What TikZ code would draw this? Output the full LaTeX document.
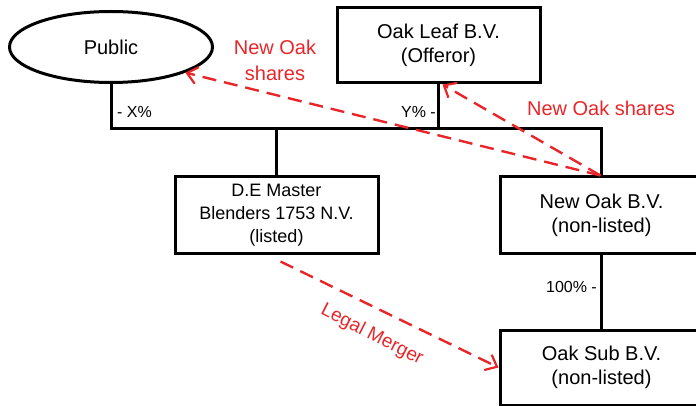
\documentclass[tikz,border=0pt]{standalone}
\usepackage{fontspec}
\setmainfont{Liberation Sans}
\usetikzlibrary{positioning,calc,shapes.geometric,arrows.meta}
\definecolor{mergered}{RGB}{232,38,42}

\begin{document}
\begin{tikzpicture}[x=1pt,y=-1pt,
  entity/.style={draw,line width=3pt,minimum width=203pt,minimum height=76pt,inner sep=0pt,align=center,font=\fontsize{20}{24}\selectfont},
  stake/.style={font=\fontsize{16}{18}\selectfont,inner sep=0pt},
  owns/.style={line width=3pt},
  flow/.style={mergered,line width=2.4pt,dash pattern=on 14pt off 8pt,-{Straight Barb[length=10pt,width=17pt,line width=2.2pt]}},
  flowtext/.style={mergered,align=center,font=\fontsize{20}{26}\selectfont,inner sep=0pt}]
\useasboundingbox (0,0) rectangle (696,406);
\node [entity,ellipse,minimum height=71pt] (Public) at (111,47) {Public};
\node [entity,minimum height=75pt] (OakLeaf) at (438.5,45.5) {Oak Leaf B.V.\\(Offeror)};
\node [entity,font=\fontsize{18}{23}\selectfont] (DEMB) at (276.5,215) {D.E Master\\Blenders 1753 N.V.\\(listed)};
\node [entity] (NewOak) at (601.5,215) {New Oak B.V.\\(non-listed)};
\node [entity,minimum height=75pt] (OakSub) at (601.5,367.5) {Oak Sub B.V.\\(non-listed)};
\coordinate (Bus) at (0,129);
\draw [owns] (Public.south) -- (Public.south |- Bus) -- (Bus -| NewOak.north) -- (NewOak.north);
\draw [owns] (OakLeaf.south) -- (OakLeaf.south |- Bus);
\draw [owns] (DEMB.north) -- (DEMB.north |- Bus);
\draw [owns] (NewOak.south) -- (OakSub.north);
\node [stake,anchor=west] (PctX) at (117,112) {- X\%};
\node [stake,anchor=east] (PctY) at (436,112) {Y\% -};
\node [stake,anchor=east] (Pct100) at (597,287) {100\% -};
\draw [flow] ([xshift=-1pt]NewOak.north) -- (Public.-19);
\draw [flow] ([xshift=-1pt]NewOak.north) -- ([xshift=4pt]OakLeaf.south);
\draw [flow] ($(DEMB.south)+(4,7)$) -- (OakSub.west);
\node [flowtext] (SharesPublic) at (275,60) {New Oak\\shares};
\node [flowtext] (SharesLeaf) at (601,108) {New Oak shares};
\node [flowtext,rotate=-27,font=\fontsize{19}{23}\selectfont] (Merger) at (372,335) {Legal Merger};
\end{tikzpicture}
\end{document}
